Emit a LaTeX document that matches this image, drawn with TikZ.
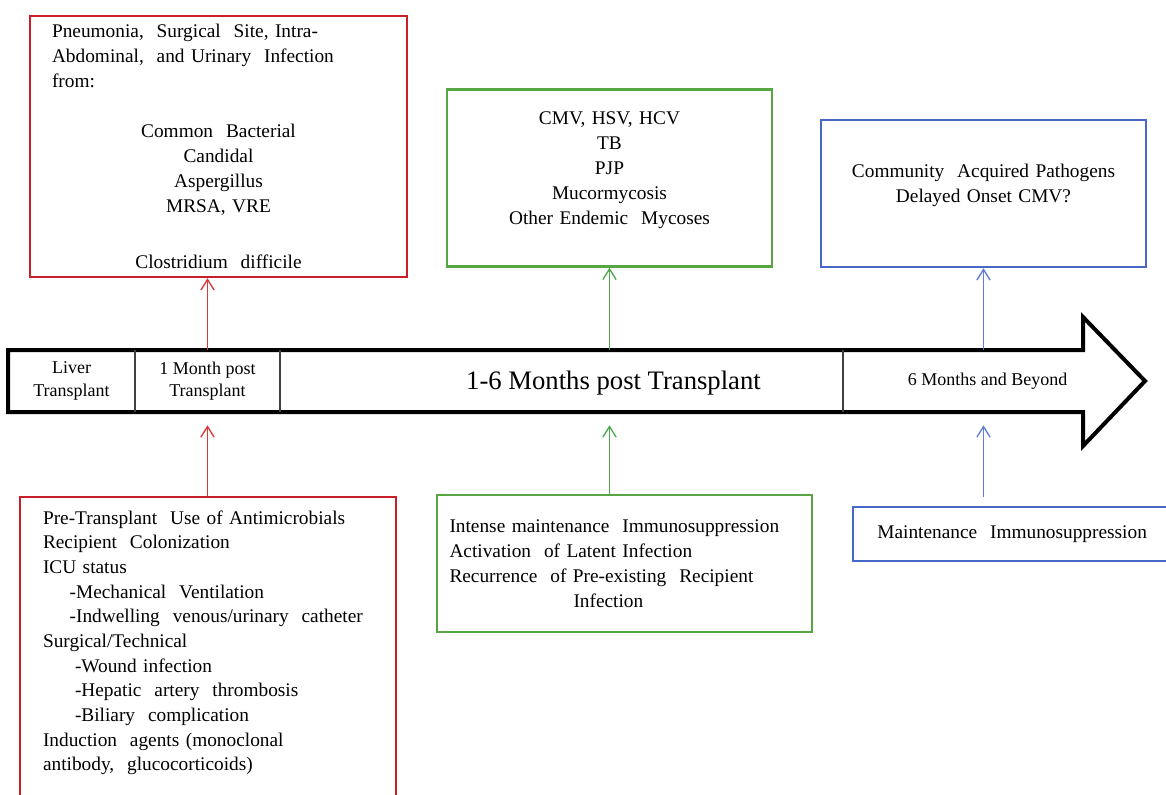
\documentclass[tikz,border=0pt]{standalone}
\usepackage{fontspec}
\setmainfont{Liberation Serif}
\usetikzlibrary{arrows.meta}

\definecolor{boxred}{RGB}{200,32,38}
\definecolor{boxgreen}{RGB}{88,165,68}
\definecolor{boxblue}{RGB}{72,104,200}
\definecolor{arrred}{RGB}{215,58,58}
\definecolor{arrgreen}{RGB}{78,168,78}
\definecolor{arrblue}{RGB}{98,124,210}

\tikzset{
  infobox/.style={draw, line width=1.8pt, inner xsep=10pt, inner ysep=5pt,
    font=\fontsize{14.5}{18.75}\selectfont},
  segment/.style={minimum height=46.5pt, inner sep=0pt, align=center,
    font=\fontsize{13.5}{17}\selectfont},
  divider/.style={line width=1.2pt, black!75},
  link/.style={->, line width=1pt},
}

\begin{document}
\begin{tikzpicture}[x=0.75pt, y=-0.75pt, >={Straight Barb[length=8pt,width=10pt]}]
  \path[use as bounding box, clip] (0,0) rectangle (1166,794);
  \fill[white] (0,0) rectangle (1166,794);

  % timeline arrow
  \draw[line width=3pt] (8,350) -- (1083,350) -- (1083,317) -- (1145,381)
    -- (1083,446) -- (1083,412) -- (8,412) -- cycle;
  \node[segment, minimum width=95.25pt] (liver) at (71.5,381) {Liver\\Transplant};
  \node[segment, minimum width=108.75pt] (onemonth) at (207.5,381) {1 Month post\\Transplant};
  \node[segment, minimum width=344.25pt, font=\fontsize{20}{24}\selectfont] (mid) at (613.5,383) {1-6 Months post Transplant};
  \node[segment, minimum width=216.75pt] (beyond) at (987.5,381) {6 Months and Beyond};
  \draw[divider] (liver.north east) -- (liver.south east);
  \draw[divider] (onemonth.north east) -- (onemonth.south east);
  \draw[divider] (onemonth.north east -| mid.east) -- (onemonth.south east -| mid.east);

  % infections
  \node[infobox, draw=boxred, inner xsep=16.5pt, minimum width=282.75pt, minimum height=195.75pt,
    text width=249.75pt, align=left] (redtop) at (218.5,146.5)
    {Pneumonia,\ \ Surgical\ \ Site, Intra-\\
     Abdominal,\ \ and Urinary\ \ Infection\\
     from:\par\vspace{18.75pt}
     \centering Common\ \ Bacterial\\ Candidal\\ Aspergillus\\ MRSA, VRE\\[23pt]
     Clostridium\ \ difficile\par};
  \node[infobox, draw=boxgreen, minimum width=243.75pt, minimum height=132.75pt,
    text width=223.75pt, align=center] (greentop) at (609.5,178)
    {CMV, HSV, HCV\\ TB\\ PJP\\ Mucormycosis\\ Other Endemic\ \ Mycoses\\[-4.5pt]\mbox{}};
  \node[infobox, draw=boxblue, minimum width=243.75pt, minimum height=110.25pt,
    text width=223.75pt, align=center] (bluetop) at (983.5,193.5)
    {Community\ \ Acquired Pathogens\\ Delayed Onset CMV?\\[-3pt]\mbox{}};

  % risk factors
  \node[infobox, draw=boxred, anchor=north, inner xsep=17.25pt, inner ysep=10pt, minimum width=282pt,
    text width=247.5pt, align=left, font=\fontsize{14.5}{18.5}\selectfont] (redbot) at (208,496)
    {Pre-Transplant\ \ Use of Antimicrobials\\
     Recipient\ \ Colonization\\
     ICU status\\
     \hspace*{20pt}-Mechanical\ \ Ventilation\\
     \hspace*{20pt}-Indwelling\ \ venous/urinary\ \ catheter\\
     Surgical/Technical\\
     \hspace*{24pt}-Wound infection\\
     \hspace*{24pt}-Hepatic\ \ artery\ \ thrombosis\\
     \hspace*{24pt}-Biliary\ \ complication\\
     Induction\ \ agents (monoclonal\\
     antibody,\ \ glucocorticoids)\\[40pt]\mbox{}};
  \node[infobox, draw=boxgreen, inner xsep=9.4pt, minimum width=281.25pt, minimum height=102.75pt,
    text width=262.5pt, align=left] (greenbot) at (624.5,563.5)
    {Intense maintenance\ \ Immunosuppression\\
     Activation\ \ of Latent Infection\\
     Recurrence\ \ of Pre-existing\ \ Recipient\\
     \hspace*{93pt}Infection};
  \node[infobox, draw=boxblue, anchor=north west, inner xsep=18pt, minimum width=251.25pt,
    minimum height=40.5pt, text width=215pt, align=left] (bluebot) at (852,506)
    {Maintenance\ \ Immunosuppression};

  % connectors
  \draw[link, arrred] (onemonth.north) -- (onemonth.north |- redtop.south);
  \draw[link, arrred, shorten >=9.75pt] (onemonth.south |- redbot.north) -- (onemonth.south);
  \draw[link, arrgreen] (greentop.south |- onemonth.north) -- (greentop.south);
  \draw[link, arrgreen, shorten >=9.75pt] (greentop.south |- greenbot.north) -- (greentop.south |- onemonth.south);
  \draw[link, arrblue] (bluetop.south |- beyond.north) -- (bluetop.south);
  \draw[link, arrblue, shorten <=6.75pt, shorten >=9.75pt] (bluetop.south |- bluebot.north) -- (bluetop.south |- beyond.south);
\end{tikzpicture}
\end{document}
